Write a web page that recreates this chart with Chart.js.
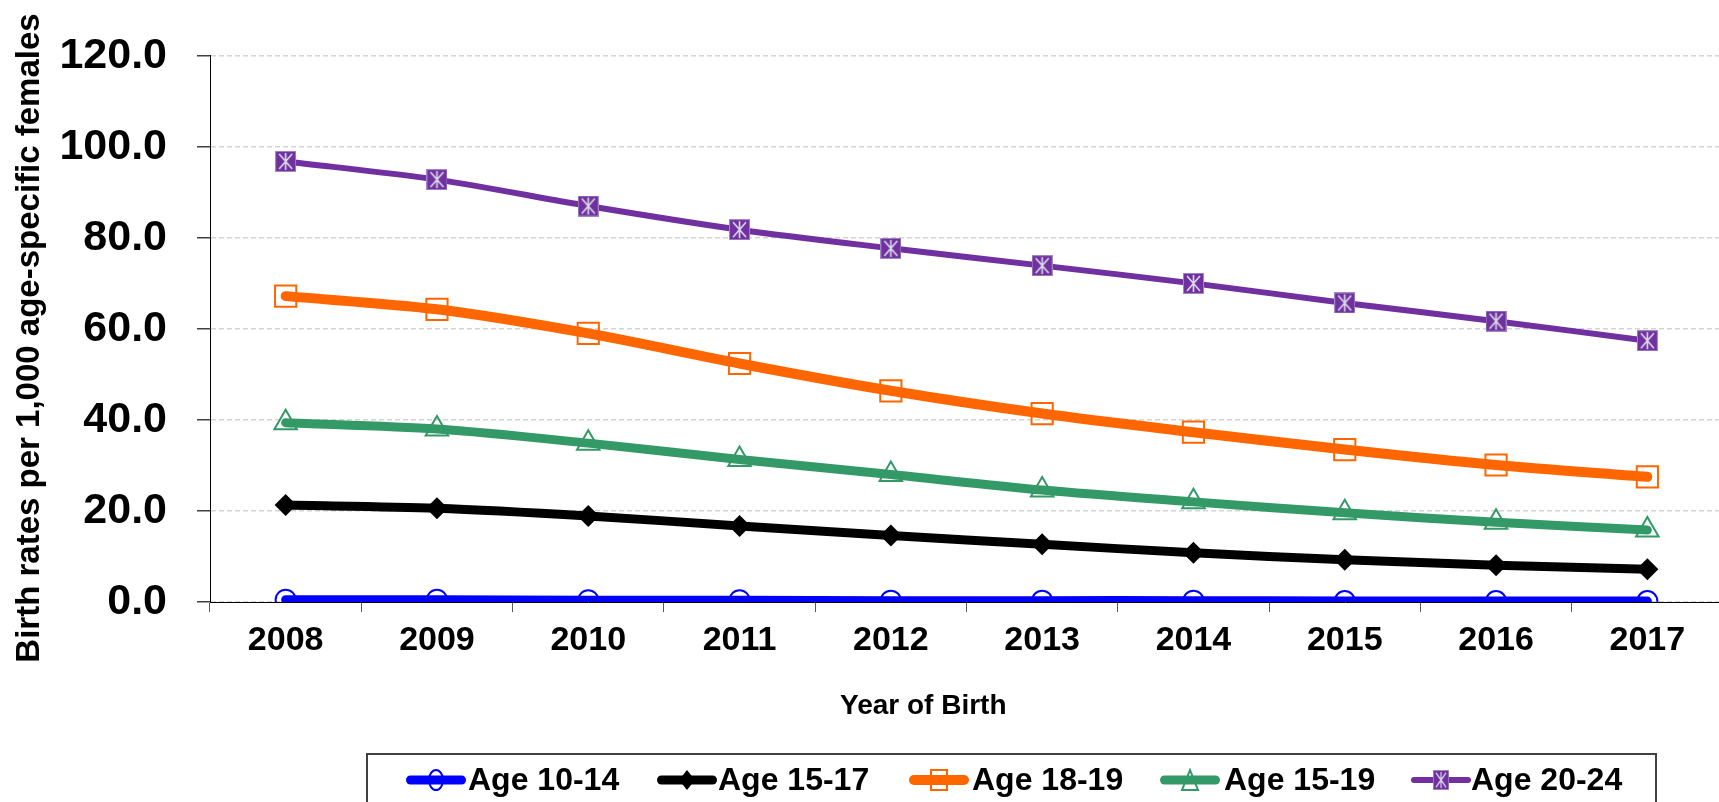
<!DOCTYPE html>
<html>
<head>
<meta charset="utf-8">
<script src="https://cdn.jsdelivr.net/npm/chart.js@4.4.1/dist/chart.umd.min.js"></script>
<style>
  html, body { margin: 0; padding: 0; background: #fff; overflow: hidden; }
  #wrap { position: relative; width: 1719px; height: 802px; overflow: hidden; }
  #c { position: absolute; left: 0; top: 0; }
  .xt { position: absolute; left: 840px; top: 691px; font: bold 28px 'Liberation Sans', Arial, sans-serif; line-height: 28px; color: #000; white-space: nowrap; }
  .yt { position: absolute; left: -372px; top: 321px; width: 800px; height: 34px; text-align: center; font: bold 33px 'Liberation Sans', Arial, sans-serif; line-height: 34px; color: #000; white-space: nowrap; transform: rotate(-90deg); transform-origin: 50% 50%; }
  #legend { position: absolute; left: 366px; top: 753px; width: 1291px; height: 90px; border: 2px solid #404040; box-sizing: border-box; }
  .li { position: absolute; top: 763px; height: 32px; font: bold 32px 'Liberation Sans', Arial, sans-serif; line-height: 32px; color: #000; white-space: nowrap; }
  .lm { position: absolute; top: 768px; }
</style>
</head>
<body>
<div id="wrap">
  <canvas id="c" width="1740" height="802" style="width:1740px;height:802px"></canvas>
  <div class="xt" id="xtitle"></div>
  <div class="yt" id="ytitle"></div>
  <div id="legend"></div>
</div>
<script>
// ---- data ----
const years = ['2008','2009','2010','2011','2012','2013','2014','2015','2016','2017'];
const age1014 = [0.5, 0.5, 0.4, 0.4, 0.3, 0.3, 0.3, 0.2, 0.2, 0.2];
const age1517 = [21.3, 20.6, 18.9, 16.7, 14.6, 12.7, 10.8, 9.3, 8.1, 7.2];
const age1819 = [67.2, 64.3, 59.0, 52.4, 46.4, 41.4, 37.3, 33.5, 30.1, 27.5];
const age1519 = [39.4, 38.0, 34.9, 31.3, 28.0, 24.6, 22.0, 19.6, 17.5, 15.8];
const age2024 = [96.8, 92.8, 87.0, 81.8, 77.7, 73.9, 70.0, 65.7, 61.7, 57.4];
const seriesNames = ['Age 10-14', 'Age 15-17', 'Age 18-19', 'Age 15-19', 'Age 20-24'];
const yTicks = [0, 20, 40, 60, 80, 100, 120];
const xTitle = 'Year of Birth';
const yTitle = 'Birth rates per 1,000 age-specific females';

const FONT = "'Liberation Sans', Arial, sans-serif";

// purple star-in-square marker
function purpleMarker(size) {
  const c = document.createElement('canvas');
  c.width = size; c.height = size;
  const g = c.getContext('2d');
  g.fillStyle = '#7030A0';
  g.fillRect(0, 0, size, size);
  g.strokeStyle = '#9f86c4';
  g.lineWidth = 1;
  g.strokeRect(0.5, 0.5, size - 1, size - 1);
  g.strokeStyle = '#dcdce8';
  g.lineWidth = 1.6;
  g.beginPath();
  g.moveTo(4, 3); g.lineTo(size - 4, size - 3);
  g.moveTo(size - 4, 3); g.lineTo(4, size - 3);
  g.moveTo(size / 2, 2); g.lineTo(size / 2, size - 2);
  g.stroke();
  return c;
}
const pm = purpleMarker(21);

const styles = [
  { color: '#0000FF', width: 9, pointStyle: 'circle', radius: 10, fill: 'rgba(0,0,0,0)', bw: 2 },
  { color: '#000000', width: 9, pointStyle: 'rectRot', radius: 11, fill: '#000000', bw: 0 },
  { color: '#FF6600', width: 10, pointStyle: 'rect', radius: 15, fill: 'rgba(0,0,0,0)', bw: 2 },
  { color: '#339966', width: 9, pointStyle: 'triangle', radius: 13, fill: 'rgba(0,0,0,0)', bw: 2 },
  { color: '#7030A0', width: 6, pointStyle: pm, radius: 10, fill: '#7030A0', bw: 0 }
];
const values = [age1014, age1517, age1819, age1519, age2024];

const datasets = values.map((v, i) => ({
  label: seriesNames[i],
  data: v,
  borderColor: styles[i].color,
  borderWidth: styles[i].width,
  borderCapStyle: 'round',
  borderJoinStyle: 'round',
  tension: 0.3,
  pointStyle: styles[i].pointStyle,
  pointRadius: styles[i].radius,
  pointHoverRadius: styles[i].radius,
  pointBackgroundColor: styles[i].fill,
  pointBorderColor: styles[i].color,
  pointBorderWidth: styles[i].bw,
  fill: false,
  order: 5 - i
}));

new Chart(document.getElementById('c'), {
  type: 'line',
  data: { labels: years, datasets },
  options: {
    responsive: false,
    animation: false,
    devicePixelRatio: 1,
    layout: { padding: { top: 51, right: 14, left: 0, bottom: 0 } },
    plugins: { legend: { display: false }, tooltip: { enabled: false } },
    scales: {
      x: {
        offset: true,
        grid: { offset: true, drawOnChartArea: false, drawTicks: true, tickLength: 10, tickColor: '#595959', lineWidth: 1 },
        border: { display: true, color: '#000', width: 1 },
        ticks: { color: '#000', padding: 8, maxRotation: 0, font: { family: FONT, size: 34, weight: 'bold' } },
        afterFit: s => { s.height = 200; }
      },
      y: {
        min: 0, max: 120,
        afterBuildTicks: s => { s.ticks = yTicks.map(v => ({ value: v })); },
        grid: { color: '#d4d4d4', lineWidth: 1.5, tickLength: 13, tickColor: '#404040', tickWidth: 1.5, tickBorderDash: [] },
        border: { display: true, color: '#000', width: 1, dash: [5, 3] },
        ticks: { color: '#000', padding: 30, callback: v => Number(v).toFixed(1), font: { family: FONT, size: 43, weight: 'bold' } },
        title: { display: false },
        afterFit: s => { s.width = 210; }
      }
    }
  }
});

document.getElementById('xtitle').textContent = xTitle;
document.getElementById('ytitle').textContent = yTitle;

// HTML legend
const legendPos = [[406, 468], [657, 718], [909, 972], [1160, 1224], [1411, 1471]];
const wrap = document.getElementById('wrap');
legendPos.forEach((p, i) => {
  const cv = document.createElement('canvas');
  cv.width = 62; cv.height = 24;
  cv.className = 'lm';
  cv.style.left = (p[0] - 1) + 'px';
  const g = cv.getContext('2d');
  const st = styles[i];
  g.strokeStyle = st.color;
  g.lineWidth = st.width;
  g.lineCap = 'round';
  g.beginPath(); g.moveTo(1 + st.width / 2, 12); g.lineTo(61 - st.width / 2, 12); g.stroke();
  const cx = 31, cy = 12;
  g.lineWidth = 2;
  g.strokeStyle = st.color;
  if (i === 0) {
    g.beginPath(); g.ellipse(cx, cy, 7, 10, 0, 0, Math.PI * 2); g.stroke();
  } else if (i === 1) {
    g.fillStyle = '#000';
    g.beginPath(); g.moveTo(cx, cy - 10); g.lineTo(cx + 8, cy); g.lineTo(cx, cy + 10); g.lineTo(cx - 8, cy); g.closePath(); g.fill();
  } else if (i === 2) {
    g.strokeRect(cx - 8, cy - 10, 16, 20);
  } else if (i === 3) {
    g.beginPath(); g.moveTo(cx, cy - 10); g.lineTo(cx + 8, cy + 10); g.lineTo(cx - 8, cy + 10); g.closePath(); g.stroke();
  } else {
    g.drawImage(pm, cx - 8, cy - 10, 16, 20);
  }
  wrap.appendChild(cv);
  const t = document.createElement('div');
  t.className = 'li';
  t.style.left = p[1] + 'px';
  t.textContent = seriesNames[i];
  wrap.appendChild(t);
});
</script>
</body>
</html>
